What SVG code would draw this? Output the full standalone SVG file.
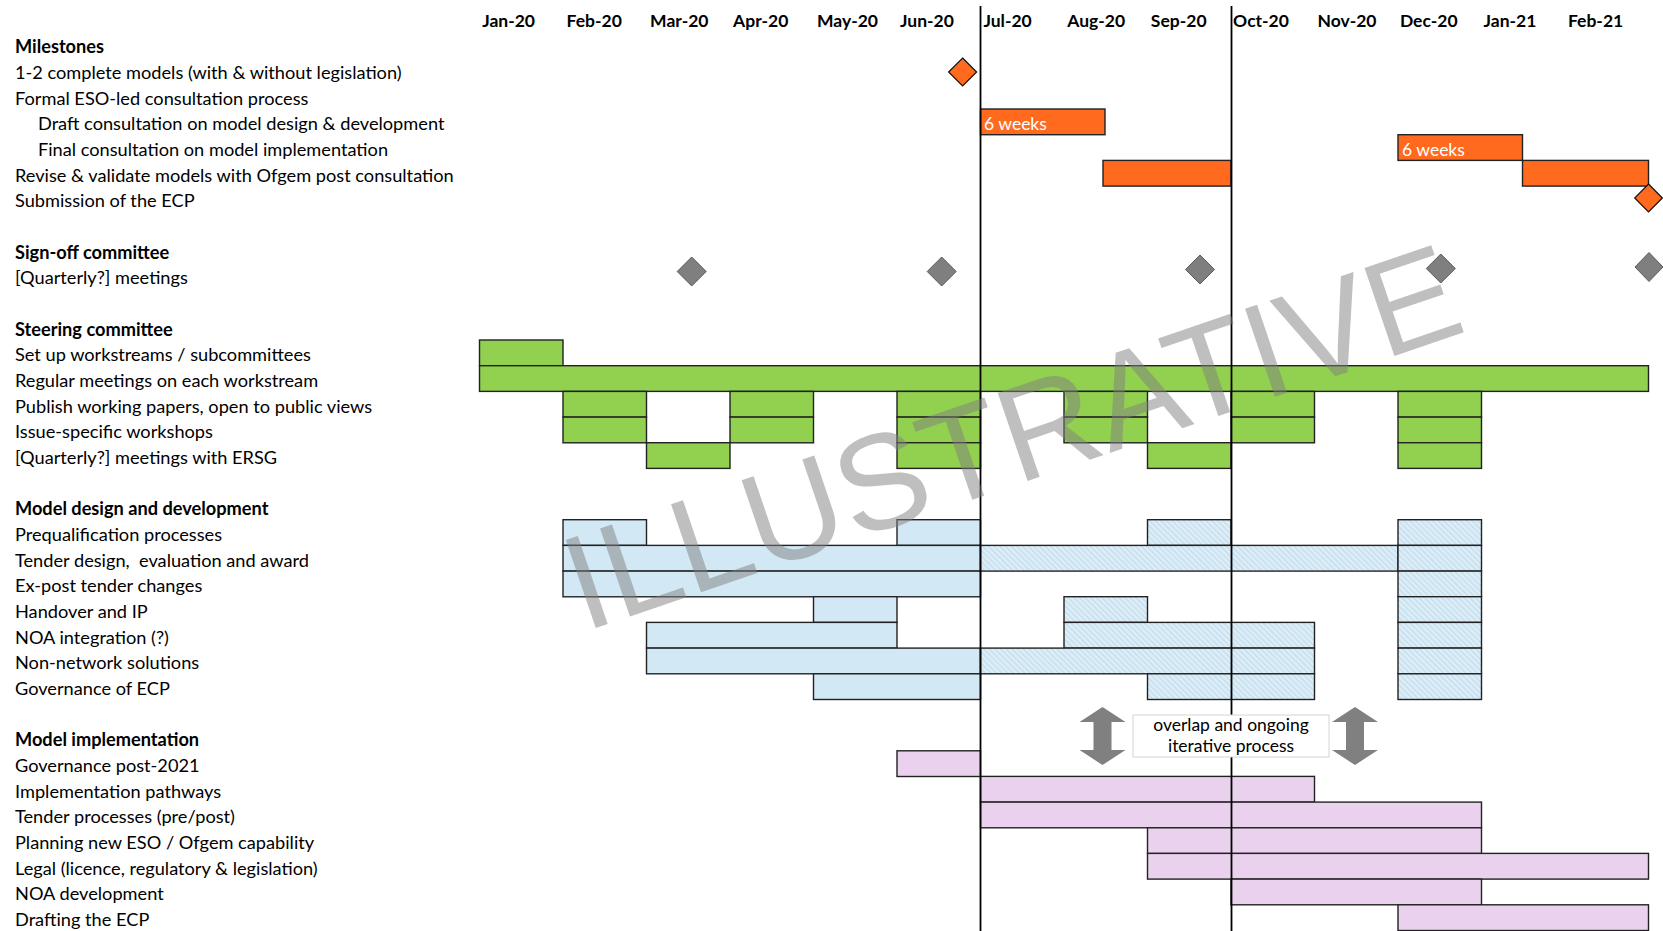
<svg xmlns="http://www.w3.org/2000/svg" width="1663" height="931" viewBox="0 0 1663 931">
  <style>
    text { font-family: Lato, "Noto Sans", sans-serif; fill: #000; }
    .lbl { font-size: 18.2px; }
    .hd { font-size: 18.2px; font-weight: bold; }
    .mo { font-size: 17.5px; font-weight: bold; text-anchor: middle; }
    .wk { font-size: 17.5px; fill: #fff; }
    .note { font-size: 17.5px; text-anchor: middle; }
    .bar { stroke: #222; stroke-width: 1.4; }
    .o { fill: #FF6A1F; }
    .g { fill: #92D050; }
    .b { fill: #D2E8F4; }
    .bh { fill: url(#hatch); }
    .p { fill: #EAD1EE; }
    .dg { fill: #7F7F7F; stroke: #5A5A5A; stroke-width: 1; }
    .do { fill: #FF6A1F; stroke: #111; stroke-width: 1.2; }
    .vl { stroke: #000; stroke-width: 1.8; }
    .arr { fill: #808080; }
    .wm { font-family: "Liberation Sans", Arial, sans-serif; font-size: 135px; fill: #7F7F7F; fill-opacity: 0.5; }
  </style>
  <defs>
    <pattern id="hatch" width="4" height="4" patternUnits="userSpaceOnUse" patternTransform="rotate(-45)">
      <rect width="4" height="4" fill="#DDEEF8"/>
      <rect width="1.3" height="4" fill="#C2DDEC"/>
    </pattern>
  </defs>

  <rect width="1663" height="931" fill="#fff"/>

  <!-- month header -->
  <g id="months">
    <text class="mo" x="508.6" y="27.3">Jan-20</text>
    <text class="mo" x="594.2" y="27.3">Feb-20</text>
    <text class="mo" x="679.3" y="27.3">Mar-20</text>
    <text class="mo" x="760.7" y="27.3">Apr-20</text>
    <text class="mo" x="847.5" y="27.3">May-20</text>
    <text class="mo" x="927" y="27.3">Jun-20</text>
    <text class="mo" x="1007.6" y="27.3">Jul-20</text>
    <text class="mo" x="1096.2" y="27.3">Aug-20</text>
    <text class="mo" x="1178.7" y="27.3">Sep-20</text>
    <text class="mo" x="1261" y="27.3">Oct-20</text>
    <text class="mo" x="1347" y="27.3">Nov-20</text>
    <text class="mo" x="1428.8" y="27.3">Dec-20</text>
    <text class="mo" x="1510" y="27.3">Jan-21</text>
    <text class="mo" x="1595.6" y="27.3">Feb-21</text>
  </g>

  <!-- row labels -->
  <g id="labels">
    <text class="hd" x="15" y="53.3">Milestones</text>
    <text class="lbl" x="15" y="79">1-2 complete models (with &amp; without legislation)</text>
    <text class="lbl" x="15" y="104.6">Formal ESO-led consultation process</text>
    <text class="lbl" x="38" y="130.3">Draft consultation on model design &amp; development</text>
    <text class="lbl" x="38" y="156">Final consultation on model implementation</text>
    <text class="lbl" x="15" y="181.7">Revise &amp; validate models with Ofgem post consultation</text>
    <text class="lbl" x="15" y="207.3">Submission of the ECP</text>

    <text class="hd" x="15" y="258.7">Sign-off committee</text>
    <text class="lbl" x="15" y="284.3">[Quarterly?] meetings</text>

    <text class="hd" x="15" y="335.7">Steering committee</text>
    <text class="lbl" x="15" y="361.3">Set up workstreams / subcommittees</text>
    <text class="lbl" x="15" y="387">Regular meetings on each workstream</text>
    <text class="lbl" x="15" y="412.7">Publish working papers, open to public views</text>
    <text class="lbl" x="15" y="438.4">Issue-specific workshops</text>
    <text class="lbl" x="15" y="464">[Quarterly?] meetings with ERSG</text>

    <text class="hd" x="15" y="515.4">Model design and development</text>
    <text class="lbl" x="15" y="541">Prequalification processes</text>
    <text class="lbl" x="15" y="566.7" xml:space="preserve">Tender design,  evaluation and award</text>
    <text class="lbl" x="15" y="592.4">Ex-post tender changes</text>
    <text class="lbl" x="15" y="618">Handover and IP</text>
    <text class="lbl" x="15" y="643.7">NOA integration (?)</text>
    <text class="lbl" x="15" y="669.4">Non-network solutions</text>
    <text class="lbl" x="15" y="695.1">Governance of ECP</text>

    <text class="hd" x="15" y="746.4">Model implementation</text>
    <text class="lbl" x="15" y="772.1">Governance post-2021</text>
    <text class="lbl" x="15" y="797.7">Implementation pathways</text>
    <text class="lbl" x="15" y="823.4">Tender processes (pre/post)</text>
    <text class="lbl" x="15" y="849.1">Planning new ESO / Ofgem capability</text>
    <text class="lbl" x="15" y="874.7">Legal (licence, regulatory &amp; legislation)</text>
    <text class="lbl" x="15" y="900.4">NOA development</text>
    <text class="lbl" x="15" y="926.1">Drafting the ECP</text>
  </g>

  <!-- milestones -->
  <g id="milestones">
    <rect class="bar o" x="980.5" y="109" width="124.5" height="25.7"/>
    <text class="wk" x="984" y="130">6 weeks</text>
    <rect class="bar o" x="1398" y="134.7" width="124.5" height="25.7"/>
    <text class="wk" x="1402" y="155.5">6 weeks</text>
    <rect class="bar o" x="1103" y="160.4" width="128" height="25.7"/>
    <rect class="bar o" x="1522.5" y="160.4" width="126" height="25.7"/>
    <path class="do" d="M962.6 58 L976.6 72 L962.6 86 L948.6 72 Z"/>
    <path class="do" d="M1648.5 184 L1662.3 198 L1648.5 212 L1634.7 198 Z"/>
  </g>

  <!-- sign-off committee meetings -->
  <g id="signoff">
    <path class="dg" d="M691.7 257 L706.2 271.5 L691.7 286 L677.2 271.5 Z"/>
    <path class="dg" d="M941.7 257 L956.2 271.5 L941.7 286 L927.2 271.5 Z"/>
    <path class="dg" d="M1200 255 L1214.5 269.5 L1200 284 L1185.5 269.5 Z"/>
    <path class="dg" d="M1440.8 254 L1455.3 268.5 L1440.8 283 L1426.3 268.5 Z"/>
    <path class="dg" d="M1649 252.5 L1663 267 L1649 281.5 L1635 267 Z"/>
  </g>

  <!-- steering committee -->
  <g id="steering">
    <rect class="bar g" x="479.5" y="340" width="83.5" height="25.7"/>
    <rect class="bar g" x="479.5" y="365.7" width="1169" height="25.7"/>
    <rect class="bar g" x="563" y="391.4" width="83.5" height="25.7"/>
    <rect class="bar g" x="730" y="391.4" width="83.5" height="25.7"/>
    <rect class="bar g" x="897" y="391.4" width="83.5" height="25.7"/>
    <rect class="bar g" x="1064" y="391.4" width="83.5" height="25.7"/>
    <rect class="bar g" x="1231" y="391.4" width="83.5" height="25.7"/>
    <rect class="bar g" x="1398" y="391.4" width="83.5" height="25.7"/>
    <rect class="bar g" x="563" y="417.1" width="83.5" height="25.7"/>
    <rect class="bar g" x="730" y="417.1" width="83.5" height="25.7"/>
    <rect class="bar g" x="897" y="417.1" width="83.5" height="25.7"/>
    <rect class="bar g" x="1064" y="417.1" width="83.5" height="25.7"/>
    <rect class="bar g" x="1231" y="417.1" width="83.5" height="25.7"/>
    <rect class="bar g" x="1398" y="417.1" width="83.5" height="25.7"/>
    <rect class="bar g" x="646.5" y="442.7" width="83.5" height="25.7"/>
    <rect class="bar g" x="897" y="442.7" width="83.5" height="25.7"/>
    <rect class="bar g" x="1147.5" y="442.7" width="83.5" height="25.7"/>
    <rect class="bar g" x="1398" y="442.7" width="83.5" height="25.7"/>
  </g>

  <!-- model design and development -->
  <g id="design">
    <rect class="bar b" x="563" y="519.7" width="83.5" height="25.7"/>
    <rect class="bar b" x="897" y="519.7" width="83.5" height="25.7"/>
    <rect class="bar bh" x="1147.5" y="519.7" width="83.5" height="25.7"/>
    <rect class="bar bh" x="1398" y="519.7" width="83.5" height="25.7"/>

    <rect class="bar b" x="563" y="545.4" width="417.5" height="25.7"/>
    <rect class="bar bh" x="980.5" y="545.4" width="417.5" height="25.7"/>
    <rect class="bar bh" x="1398" y="545.4" width="83.5" height="25.7"/>

    <rect class="bar b" x="563" y="571.1" width="417.5" height="25.7"/>
    <rect class="bar bh" x="1398" y="571.1" width="83.5" height="25.7"/>

    <rect class="bar b" x="813.5" y="596.7" width="83.5" height="25.7"/>
    <rect class="bar bh" x="1064" y="596.7" width="83.5" height="25.7"/>
    <rect class="bar bh" x="1398" y="596.7" width="83.5" height="25.7"/>

    <rect class="bar b" x="646.5" y="622.4" width="250.5" height="25.7"/>
    <rect class="bar bh" x="1064" y="622.4" width="250.5" height="25.7"/>
    <rect class="bar bh" x="1398" y="622.4" width="83.5" height="25.7"/>

    <rect class="bar b" x="646.5" y="648.1" width="334" height="25.7"/>
    <rect class="bar bh" x="980.5" y="648.1" width="334" height="25.7"/>
    <rect class="bar bh" x="1398" y="648.1" width="83.5" height="25.7"/>

    <rect class="bar b" x="813.5" y="673.8" width="167" height="25.7"/>
    <rect class="bar bh" x="1147.5" y="673.8" width="167" height="25.7"/>
    <rect class="bar bh" x="1398" y="673.8" width="83.5" height="25.7"/>
  </g>

  <!-- model implementation -->
  <g id="implementation">
    <rect class="bar p" x="897" y="750.8" width="83.5" height="25.7"/>
    <rect class="bar p" x="980.5" y="776.4" width="334" height="25.7"/>
    <rect class="bar p" x="980.5" y="802.1" width="501" height="25.7"/>
    <rect class="bar p" x="1147.5" y="827.8" width="334" height="25.7"/>
    <rect class="bar p" x="1147.5" y="853.4" width="501" height="25.7"/>
    <rect class="bar p" x="1231" y="879.1" width="250.5" height="25.7"/>
    <rect class="bar p" x="1398" y="904.8" width="250.5" height="25.7"/>
  </g>

  <!-- quarter boundaries -->
  <g id="connectors">
    <line class="vl" x1="980.5" y1="6" x2="980.5" y2="931"/>
    <line class="vl" x1="1231.5" y1="6" x2="1231.5" y2="931"/>
  </g>

  <!-- overlap note with double arrows -->
  <g id="overlap-note">
    <path class="arr" d="M1102.5 707 L1125.5 722 L1111.5 722 L1111.5 750 L1125.5 750 L1102.5 765 L1079.5 750 L1093.5 750 L1093.5 722 L1079.5 722 Z"/>
    <path class="arr" d="M1355 707 L1378 722 L1364 722 L1364 750 L1378 750 L1355 765 L1332 750 L1346 750 L1346 722 L1332 722 Z"/>
    <rect x="1133" y="715" width="196" height="42" fill="#fff" stroke="#D4D4D4" stroke-width="1"/>
    <text class="note" x="1231" y="731">overlap and ongoing</text>
    <text class="note" x="1231" y="752">iterative process</text>
  </g>

  <!-- watermark -->
  <text class="wm" x="0" y="0" transform="translate(584,632) rotate(-18.8)">ILLUSTRATIVE</text>
</svg>
